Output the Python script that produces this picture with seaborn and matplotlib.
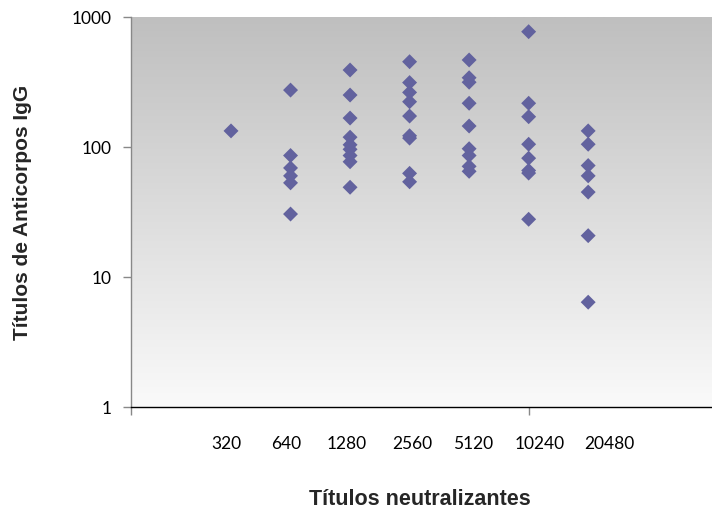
import numpy as np
import pandas as pd
import matplotlib
matplotlib.use("Agg")
import matplotlib.pyplot as plt
import seaborn as sns

# ---- data ----
categories = ["320", "640", "1280", "2560", "5120", "10240", "20480"]
vals_320 = [133]
vals_640 = [274, 86, 69, 60, 53, 30.5]
vals_1280 = [391, 251, 167, 119, 104, 96, 86, 77, 49]
vals_2560 = [453, 313, 263, 223, 173, 122, 117, 62.7, 54]
vals_5120 = [467, 341, 315, 217, 145, 97, 86, 71, 65]
vals_10240 = [771, 217, 171, 105, 82, 66, 63, 27.8]
vals_20480 = [133, 105, 72, 60, 45, 20.8, 6.4]
series = [vals_320, vals_640, vals_1280, vals_2560, vals_5120, vals_10240, vals_20480]

rows = []
for i, vals in enumerate(series):
    for v in vals:
        rows.append({"pos": i + 1, "igg": v})
df = pd.DataFrame(rows)

sns.set_theme(style="white")
plt.rcParams["font.family"] = ["Lato", "DejaVu Sans"]

fig = plt.figure(figsize=(7.12, 5.11), dpi=100)
ax = fig.add_axes([131 / 712, 1 - 407 / 511, 1 - 131 / 712, (407 - 17) / 511])

x_left, x_right = -0.68, 9.08
# gradient background
grad = np.linspace(0, 1, 256).reshape(-1, 1)
cmap = matplotlib.colors.LinearSegmentedColormap.from_list("g", ["#BFBFBF", "#FAFAFA"])
ax.imshow(grad, aspect="auto", cmap=cmap, extent=[0, 1, 0, 1], transform=ax.transAxes,
          zorder=0, origin="upper")

sns.scatterplot(data=df, x="pos", y="igg", marker="D", s=58, color="#62629E",
                edgecolor="none", linewidth=0, ax=ax, zorder=3)

ax.set_yscale("log")
ax.set_ylim(1, 1000)
ax.set_xlim(x_left, x_right)

ax.set_yticks([1, 10, 100, 1000])
ax.set_yticklabels(["1", "10", "100", "1000"])
ax.yaxis.set_minor_locator(matplotlib.ticker.NullLocator())

label_pos = [0.916, 1.924, 2.95, 4.04, 5.07, 6.18, 7.35]
ax.set_xticks(label_pos)
ax.set_xticklabels(categories)
ax.set_xticks([x_left + 0.001, 6], minor=True)
ax.tick_params(axis="x", which="major", length=0, pad=21, labelsize=12.5, colors="#000000")
ax.tick_params(axis="x", which="minor", length=6, width=1, color="#888888", direction="out", bottom=True)
ax.tick_params(axis="y", which="major", length=6, width=1, color="#888888", direction="out",
               pad=8, labelsize=12.5, left=True, labelcolor="#000000")

for s in ["top", "right"]:
    ax.spines[s].set_visible(False)
ax.spines["left"].set_color("#888888")
ax.spines["bottom"].set_color("#000000")
ax.spines["left"].set_linewidth(1)
ax.spines["bottom"].set_linewidth(1)
ax.grid(False)

ax.set_xlabel("")
ax.set_ylabel("")
fig.text(23 / 712, 1 - 212 / 511, "Títulos de Anticorpos IgG", rotation=90, ha="center", va="center",
         fontsize=15, fontweight="bold", family=["Liberation Sans", "DejaVu Sans"])
fig.text(420 / 712, 1 - 499 / 511, "Títulos neutralizantes", ha="center", va="center",
         fontsize=15.5, fontweight="bold", family=["Liberation Sans", "DejaVu Sans"])

fig.savefig("out.png", dpi=100)
